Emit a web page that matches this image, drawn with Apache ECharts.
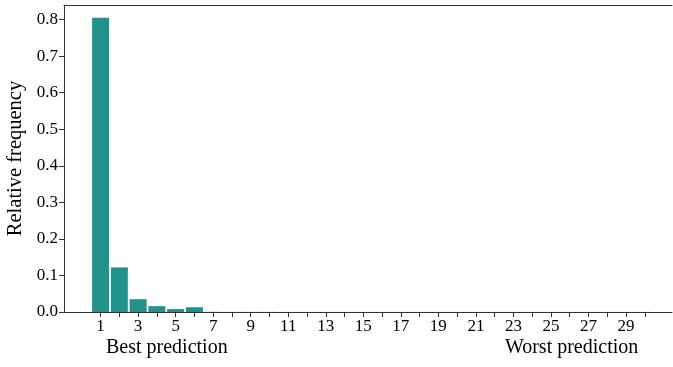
<!DOCTYPE html>
<html>
<head>
<meta charset="utf-8">
<script src="https://cdn.jsdelivr.net/npm/echarts@6/dist/echarts.min.js"></script>
<style>
  html, body { margin: 0; padding: 0; background: #fff; }
  #chart { width: 673px; height: 367px; }
</style>
</head>
<body>
<div id="chart"></div>
<script>
// Rank of the prediction (1 = best) and how often each rank occurred
const ranks = [1, 2, 3, 4, 5, 6, 7, 8, 9, 10, 11, 12, 13, 14, 15,
               16, 17, 18, 19, 20, 21, 22, 23, 24, 25, 26, 27, 28, 29, 30];
const relFreq = [0.805, 0.122, 0.035, 0.016, 0.008, 0.013, 0.0004, 0.0003, 0.0003, 0.0003,
                 0.0002, 0.0002, 0.0002, 0.0002, 0.0002, 0.0002, 0.0002, 0.0002, 0.0002, 0.0002,
                 0.0002, 0.0002, 0.0002, 0.0002, 0.0002, 0.0002, 0.0002, 0.0002, 0.0002, 0.0002];
const rankLabels = [1, 3, 5, 7, 9, 11, 13, 15, 17, 19, 21, 23, 25, 27, 29];
const yTicks = [0, 0.1, 0.2, 0.3, 0.4, 0.5, 0.6, 0.7, 0.8];
const endNotes = [
  { text: 'Best prediction', at: 4.53 },
  { text: 'Worst prediction', at: 26.1 }
];

const FONT = "'Liberation Serif', 'Times New Roman', serif";
const AXIS = '#333333';
const BAR = '#21918c';

const chart = echarts.init(document.getElementById('chart'), null, { renderer: 'canvas' });

const tickText = { color: '#000', fontFamily: FONT, fontSize: 17 };

const option = {
  animation: false,
  backgroundColor: '#ffffff',
  textStyle: { fontFamily: FONT },
  grid: { left: 64, right: 1, top: 5, bottom: 55, containLabel: false, outerBoundsMode: 'none' },
  xAxis: [
    {
      type: 'value',
      min: -0.95,
      max: 31.45,
      splitLine: { show: false },
      axisLine: { show: true, onZero: false, lineStyle: { color: AXIS, width: 1 } },
      axisTick: { show: true, customValues: ranks, length: 5, inside: false,
                  lineStyle: { color: AXIS, width: 1 } },
      axisLabel: Object.assign({ show: true, customValues: rankLabels, margin: 6 }, tickText)
    },
    {
      type: 'value',
      position: 'top',
      min: -0.95,
      max: 31.45,
      splitLine: { show: false },
      axisLine: { show: true, onZero: false, lineStyle: { color: AXIS, width: 1 } },
      axisTick: { show: false },
      axisLabel: { show: false }
    }
  ],
  yAxis: {
    type: 'value',
    min: 0,
    max: 0.84,
    splitLine: { show: false },
    name: 'Relative frequency',
    nameLocation: 'middle',
    nameGap: 38,
    nameTextStyle: { color: '#000', fontFamily: FONT, fontSize: 20.5 },
    axisLine: { show: true, onZero: false, lineStyle: { color: AXIS, width: 1 } },
    axisTick: { show: true, customValues: yTicks, length: 5, lineStyle: { color: AXIS, width: 1 } },
    axisLabel: Object.assign({ show: true, customValues: yTicks, margin: 6,
                               formatter: v => v.toFixed(1) }, tickText)
  },
  series: [
    {
      type: 'bar',
      xAxisIndex: 0,
      barWidth: 17,
      itemStyle: { color: BAR },
      data: ranks.map((r, i) => [r, relFreq[i]])
    }
  ]
};

chart.setOption(option);

// Annotations under the two ends of the rank axis
const graphics = endNotes.map(n => {
  const p = chart.convertToPixel({ xAxisIndex: 0, yAxisIndex: 0 }, [n.at, 0]);
  return {
    type: 'text',
    x: p[0],
    y: 348,
    style: { text: n.text, fill: '#000', font: '20px ' + FONT,
             align: 'center', verticalAlign: 'middle' }
  };
});
chart.setOption({ graphic: graphics });
</script>
</body>
</html>
